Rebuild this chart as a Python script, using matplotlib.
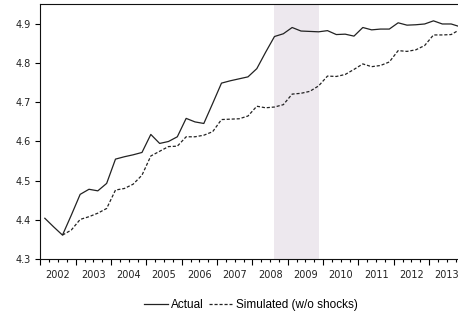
import numpy as np
import matplotlib
matplotlib.use("Agg")
import matplotlib.pyplot as plt

# quarterly data, 2002Q1 - 2013Q4
years = list(range(2002, 2014))
actual = [4.404, 4.382, 4.361, 4.412, 4.465, 4.478, 4.474, 4.493, 4.555, 4.561, 4.566, 4.572,
          4.618, 4.595, 4.600, 4.612, 4.659, 4.650, 4.646, 4.697, 4.749, 4.755, 4.760, 4.765,
          4.786, 4.828, 4.868, 4.875, 4.891, 4.882, 4.881, 4.880, 4.883, 4.873, 4.874, 4.869,
          4.891, 4.885, 4.887, 4.887, 4.903, 4.897, 4.898, 4.900, 4.908, 4.900, 4.900, 4.893]
simulated = [np.nan, np.nan, 4.361, 4.374, 4.401, 4.408, 4.417, 4.429, 4.476, 4.480, 4.491, 4.514,
             4.563, 4.575, 4.587, 4.588, 4.612, 4.612, 4.616, 4.625, 4.656, 4.657, 4.658, 4.665,
             4.690, 4.686, 4.688, 4.694, 4.721, 4.723, 4.728, 4.742, 4.767, 4.766, 4.771, 4.784,
             4.798, 4.791, 4.794, 4.803, 4.832, 4.830, 4.834, 4.845, 4.872, 4.872, 4.873, 4.886]
# shaded period: 2008Q3 - 2009Q4 (observation index)
shade_start, shade_end = 26, 31

q = np.arange(len(actual))

fig = plt.figure(figsize=(4.58, 3.2), dpi=100)
# axes runs a bit past the right edge, like the cropped original
ax = fig.add_axes([40.4 / 458, 61 / 320, 424 / 458, 255 / 320])

ax.axvspan(shade_start, shade_end, color='#ede8ee', lw=0, zorder=0)
ax.plot(q, actual, color='#222222', lw=0.9, label='Actual')
ax.plot(q, simulated, color='#222222', lw=0.9, dashes=(2.5, 1.5), label='Simulated (w/o shocks)')

ax.set_xlim(-0.5, len(actual) - 0.5)
ax.set_ylim(4.3, 4.951)
ax.set_yticks([4.3, 4.4, 4.5, 4.6, 4.7, 4.8, 4.9])
ax.set_yticklabels(['4.3', '4.4', '4.5', '4.6', '4.7', '4.8', '4.9'])

# year boundaries as major ticks, quarter boundaries as minor ticks
ax.set_xticks(np.arange(-0.5, len(actual), 4))
ax.set_xticks(np.arange(-0.5, len(actual), 1), minor=True)
ax.tick_params(axis='x', which='major', length=4.5, width=0.8, labelbottom=False)
ax.tick_params(axis='x', which='minor', length=2.5, width=0.8)
ax.tick_params(axis='y', length=3.4, width=0.8, pad=3.5, labelsize=7, labelcolor='#222222')

# year labels centred in each year
sec = ax.secondary_xaxis('bottom')
sec.set_xticks(np.arange(1.5, len(actual), 4))
sec.set_xticklabels([str(y) for y in years])
sec.tick_params(length=0, pad=8, labelsize=7, labelcolor='#222222')
sec.spines['bottom'].set_visible(False)

for s in ['left', 'bottom', 'top']:
    ax.spines[s].set_linewidth(0.8)
    ax.spines[s].set_color('#111111')
ax.spines['right'].set_visible(False)

ax.legend(loc='center', bbox_to_anchor=(251 / 458, 15 / 320), bbox_transform=fig.transFigure,
          ncol=2, frameon=False, handlelength=2.0, handletextpad=0.3, columnspacing=0.4,
          prop={'family': 'Liberation Sans', 'size': 8.5})

fig.savefig('out.png', dpi=100)
